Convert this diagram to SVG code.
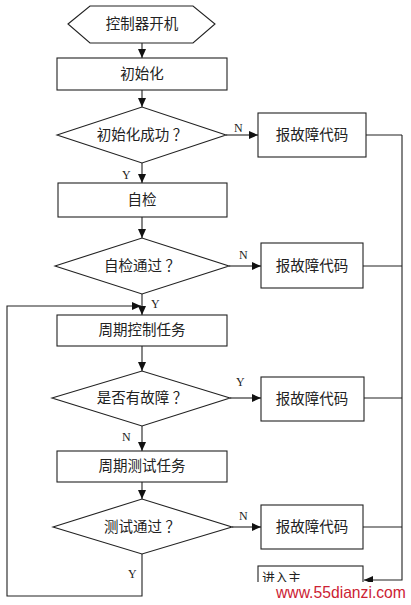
<svg xmlns="http://www.w3.org/2000/svg" width="411" height="605" viewBox="0 0 411 605">
<style>
.s{fill:#fff;stroke:#222;stroke-width:1.1}
.t{font-family:"Liberation Serif","Noto Sans CJK SC",serif;font-size:14.5px;fill:#222;text-anchor:middle;dominant-baseline:central}
.l{font-family:"Liberation Serif",serif;font-size:12px;fill:#222}
.c{fill:none;stroke:#222;stroke-width:1.1}
</style>
<defs>
<marker id="a" markerWidth="9" markerHeight="8" refX="9" refY="4" orient="auto" markerUnits="userSpaceOnUse">
<path d="M0,0 L9,4 L0,8 Z" fill="#111"/>
</marker>
</defs>
<rect width="411" height="605" fill="#fff"/>
<g id="connectors">
<line class="c" x1="142" y1="43" x2="142" y2="58" marker-end="url(#a)"/>
<line class="c" x1="142" y1="90" x2="142" y2="107" marker-end="url(#a)"/>
<line class="c" x1="226" y1="135" x2="258" y2="135" marker-end="url(#a)"/>
<line class="c" x1="142" y1="163" x2="142" y2="183" marker-end="url(#a)"/>
<line class="c" x1="142" y1="217" x2="142" y2="238" marker-end="url(#a)"/>
<line class="c" x1="229" y1="266" x2="261" y2="266" marker-end="url(#a)"/>
<line class="c" x1="142" y1="294" x2="142" y2="315" marker-end="url(#a)"/>
<line class="c" x1="142" y1="346" x2="142" y2="371" marker-end="url(#a)"/>
<line class="c" x1="230" y1="398" x2="261" y2="398" marker-end="url(#a)"/>
<line class="c" x1="142" y1="426" x2="142" y2="451" marker-end="url(#a)"/>
<line class="c" x1="142" y1="482" x2="142" y2="499" marker-end="url(#a)"/>
<line class="c" x1="232" y1="527" x2="261" y2="527" marker-end="url(#a)"/>
<polyline class="c" points="142,554 142,596 7,596 7,306 141,306" marker-end="url(#a)"/>
<line class="c" x1="366" y1="135" x2="402" y2="135"/>
<line class="c" x1="363" y1="266" x2="402" y2="266"/>
<line class="c" x1="364" y1="398" x2="402" y2="398"/>
<line class="c" x1="363" y1="527" x2="402" y2="527"/>
<polyline class="c" points="402,135 402,580 364,580" marker-end="url(#a)"/>
<text class="l" x="234" y="132">N</text>
<text class="l" x="122" y="179">Y</text>
<text class="l" x="239" y="259">N</text>
<text class="l" x="151" y="308">Y</text>
<text class="l" x="236" y="386">Y</text>
<text class="l" x="122" y="441">N</text>
<text class="l" x="239" y="520">N</text>
<text class="l" x="128" y="578">Y</text>
</g>
<g id="start"><polygon class="s" points="68,24 90,6 193,6 215,24 193,43 90,43"/><text class="t" x="142" y="24">控制器开机</text></g>
<g id="init"><rect class="s" x="57" y="58" width="170" height="32"/><text class="t" x="142" y="74">初始化</text></g>
<g id="initok"><polygon class="s" points="57,135 142,107 226,135 142,163"/><text class="t" x="142" y="135">初始化成功 ？</text></g>
<g id="err1"><rect class="s" x="258" y="113" width="108" height="44"/><text class="t" x="312" y="135">报故障代码</text></g>
<g id="selftest"><rect class="s" x="58" y="183" width="169" height="34"/><text class="t" x="142" y="200">自检</text></g>
<g id="selfok"><polygon class="s" points="55,266 142,238 229,266 142,294"/><text class="t" x="142" y="266">自检通过 ？</text></g>
<g id="err2"><rect class="s" x="261" y="243" width="102" height="45"/><text class="t" x="312" y="266">报故障代码</text></g>
<g id="ctrl"><rect class="s" x="57" y="315" width="170" height="31"/><text class="t" x="142" y="330">周期控制任务</text></g>
<g id="fault"><polygon class="s" points="52,398 142,371 230,398 142,426"/><text class="t" x="142" y="398">是否有故障 ？</text></g>
<g id="err3"><rect class="s" x="261" y="377" width="103" height="44"/><text class="t" x="312" y="399">报故障代码</text></g>
<g id="test"><rect class="s" x="57" y="451" width="170" height="31"/><text class="t" x="142" y="466">周期测试任务</text></g>
<g id="testok"><polygon class="s" points="53,527 142,499 232,527 142,554"/><text class="t" x="142" y="527">测试通过 ？</text></g>
<g id="err4"><rect class="s" x="261" y="505" width="102" height="44"/><text class="t" x="312" y="527">报故障代码</text></g>
<g id="enter"><rect class="s" x="258" y="566" width="105" height="30"/><text class="t" x="262" y="577" style="text-anchor:start;font-size:13px">进入主</text></g>
<rect x="256" y="582" width="155" height="23" fill="#fff"/>
<text x="276" y="598" style="font-family:'Liberation Sans',sans-serif;font-size:15.7px;fill:#cc2233">www.55dianzi.com</text>
</svg>
